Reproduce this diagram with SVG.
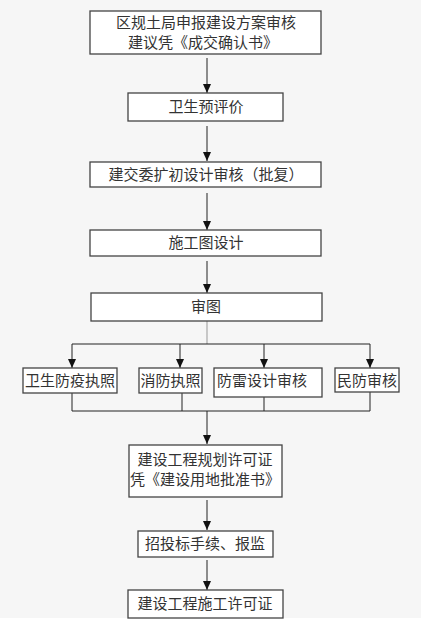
<svg xmlns="http://www.w3.org/2000/svg" width="421" height="637" viewBox="0 0 421 637">
<defs>
<marker id="ah" markerWidth="9" markerHeight="8" refX="9" refY="4" orient="auto" markerUnits="userSpaceOnUse" viewBox="0 0 9 8">
<path d="M0,0 L9,4 L0,8 Z" fill="#111"/>
</marker>
<style>
.box{fill:#fff;stroke:#444;stroke-width:1.3}
.t{font-family:"Noto Sans CJK SC","Liberation Sans",sans-serif;font-size:15px;fill:#333;text-anchor:middle}
.c{fill:none;stroke:#222;stroke-width:1}
</style>
</defs>
<rect x="0" y="0" width="421" height="618" fill="#f6f6f6"/>
<rect x="0" y="618" width="421" height="19" fill="#fff"/>
<g id="connectors">
<path class="c" d="M207,58 V93" marker-end="url(#ah)"/>
<path class="c" d="M207,126 V161" marker-end="url(#ah)"/>
<path class="c" d="M207,193 V230" marker-end="url(#ah)"/>
<path class="c" d="M207,261 V293" marker-end="url(#ah)"/>
<path d="M207,321 V344" fill="none" stroke="#999" stroke-width="1"/>
<path class="c" d="M72,344 H370"/>
<path class="c" d="M72,344 V368" marker-end="url(#ah)"/>
<path class="c" d="M180,344 V368" marker-end="url(#ah)"/>
<path class="c" d="M264,344 V368" marker-end="url(#ah)"/>
<path class="c" d="M370,344 V368" marker-end="url(#ah)"/>
<path class="c" d="M72,393 V411 M182,393 V411 M264,397 V411 M370,392 V411 M72,411 H370"/>
<path class="c" d="M207,411 V444" marker-end="url(#ah)"/>
<path class="c" d="M207,500 V530" marker-end="url(#ah)"/>
<path class="c" d="M207,560 V590" marker-end="url(#ah)"/>
</g>
<g id="n1"><rect class="box" x="90" y="11" width="231" height="43"/>
<text class="t" x="206" y="28">区规土局申报建设方案审核</text>
<text class="t" x="203" y="48">建议凭《成交确认书》</text></g>
<g id="n2"><rect class="box" x="128" y="93" width="155" height="28"/>
<text class="t" x="206" y="112">卫生预评价</text></g>
<g id="n3"><rect class="box" x="90" y="162" width="231" height="25"/>
<text class="t" x="206" y="180">建交委扩初设计审核（批复）</text></g>
<g id="n4"><rect class="box" x="90" y="230" width="231" height="26"/>
<text class="t" x="206" y="248">施工图设计</text></g>
<g id="n5"><rect class="box" x="91" y="293" width="231" height="28"/>
<text class="t" x="206" y="312">审图</text></g>
<g id="n6"><rect class="box" x="23" y="368" width="94" height="25"/>
<text class="t" x="70" y="386">卫生防疫执照</text></g>
<g id="n7"><rect class="box" x="139" y="368" width="63" height="25"/>
<text class="t" x="170.5" y="386">消防执照</text></g>
<g id="n8"><rect class="box" x="214" y="368" width="108" height="29"/>
<text class="t" x="262" y="386">防雷设计审核</text></g>
<g id="n9"><rect class="box" x="335" y="368" width="64" height="24"/>
<text class="t" x="367" y="386">民防审核</text></g>
<g id="n10"><rect class="box" x="129" y="445" width="153" height="52"/>
<text class="t" x="205" y="465">建设工程规划许可证</text>
<text class="t" x="205" y="485">凭《建设用地批准书》</text></g>
<g id="n11"><rect class="box" x="138" y="531" width="135" height="26"/>
<text class="t" x="205" y="549">招投标手续、报监</text></g>
<g id="n12"><rect class="box" x="128" y="590" width="155" height="28"/>
<text class="t" x="205" y="609">建设工程施工许可证</text></g>
</svg>
